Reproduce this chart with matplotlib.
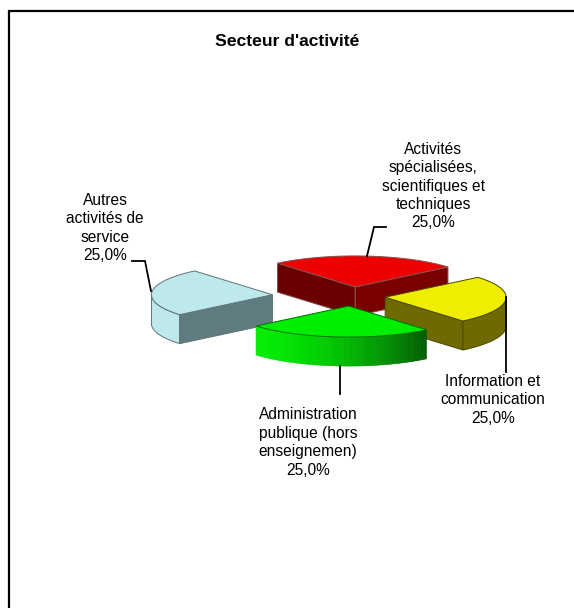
import matplotlib
matplotlib.use("Agg")
import matplotlib.pyplot as plt
import numpy as np

plt.rcParams['font.family'] = ['Liberation Sans', 'DejaVu Sans']

# data, in drawing order round the pie
categories = ["Activités\nspécialisées,\nscientifiques et\ntechniques",
              "Information et\ncommunication",
              "Administration\npublique (hors\nenseignemen)",
              "Autres\nactivités de\nservice"]
values = [25.0, 25.0, 25.0, 25.0]
explode = [0.31, 0.275, 0.31, 0.66]
top_colors = ["#ee0000", "#f0ee00", "#00ee00", "#bde8ec"]
wall_colors = ["#6a0000", "#6e6a00", "#00c000", "#5f7c80"]
rim_colors = ["#7a0000", "#6e6a00", "#00c000", "#bde8ec"]
edge_colors = ["#8a5050", "#4a4800", "#007000", "#5f7478"]

# geometry of the 3d pie, in pixels
cx, cy = 352, 296.5
rx, ry = 121, 31
depth = 29
start = 130  # red slice starts here and goes clockwise


def pt(x0, y0, a):
    return x0 + rx * np.cos(np.radians(a)), y0 - ry * np.sin(np.radians(a))


fig = plt.figure(figsize=(5.74, 6.08), dpi=100)
ax = fig.add_axes([0, 0, 1, 1])
ax.set_xlim(0, 574)
ax.set_ylim(608, 0)
ax.axis("off")

# outer frame only shows on the left and top
ax.plot([9, 9, 574], [608, 11, 11], color="black", lw=1.6, solid_joinstyle="miter")

# slice angles from the values
sweep = np.array(values) / sum(values) * 360
a_start = start - np.concatenate([[0], np.cumsum(sweep)[:-1]])
a_end = a_start - sweep

slices = []
for i in range(len(values)):
    mid = (a_start[i] + a_end[i]) / 2
    ox = cx + explode[i] * rx * np.cos(np.radians(mid))
    oy = cy - explode[i] * ry * np.sin(np.radians(mid))
    slices.append((ox, oy, a_start[i], a_end[i]))


def radial_wall(ox, oy, a, color, edge, z):
    x, y = pt(ox, oy, a)
    ax.fill([ox, x, x, ox], [oy, y, y + depth, oy + depth], fc=color, ec=edge, lw=0.7, zorder=z)


def rim(ox, oy, a1, a2, color, edge, z, shade=False):
    # only the front half of the rim can be seen
    a1, a2 = min(a1, a2), max(a1, a2)
    angs = np.linspace(a1, a2, 90)
    angs = angs[np.sin(np.radians(angs)) <= 0.001]
    if len(angs) < 2:
        return
    if shade:
        c0 = np.array([0.0, 0.93, 0.0])
        c1 = np.array([0.0, 0.36, 0.0])
        for k in range(len(angs) - 1):
            x1, y1 = pt(ox, oy, angs[k])
            x2, y2 = pt(ox, oy, angs[k + 1])
            t = ((x1 + x2) / 2 - pt(ox, oy, a1)[0]) / (pt(ox, oy, a2)[0] - pt(ox, oy, a1)[0])
            col = c0 + (c1 - c0) * t ** 1.6
            ax.fill([x1, x2, x2, x1], [y1, y2, y2 + depth, y1 + depth], fc=col, ec=col, lw=0.4, zorder=z)
    else:
        x, y = pt(ox, oy, angs)
        ax.fill(np.r_[x, x[::-1]], np.r_[y, y[::-1] + depth], fc=color, ec=edge, lw=0.7, zorder=z)


def top(ox, oy, a1, a2, color, edge, z):
    angs = np.linspace(a1, a2, 60)
    x, y = pt(ox, oy, angs)
    ax.fill(np.r_[ox, x], np.r_[oy, y], fc=color, ec=edge, lw=0.7, zorder=z)


# red
ox, oy, a1, a2 = slices[0]
radial_wall(ox, oy, a1, wall_colors[0], edge_colors[0], 3)
radial_wall(ox, oy, a2, rim_colors[0], edge_colors[0], 3)
top(ox, oy, a1, a2, top_colors[0], edge_colors[0], 4)
# light blue
ox, oy, a1, a2 = slices[3]
rim(ox, oy, a1, a2, rim_colors[3], edge_colors[3], 3)
radial_wall(ox, oy, a1, wall_colors[3], edge_colors[3], 3)
top(ox, oy, a1, a2, top_colors[3], edge_colors[3], 4)
# yellow
ox, oy, a1, a2 = slices[1]
radial_wall(ox, oy, a2, wall_colors[1], edge_colors[1], 5)
rim(ox, oy, a1, a2, rim_colors[1], edge_colors[1], 5)
top(ox, oy, a1, a2, top_colors[1], edge_colors[1], 6)
# green
ox, oy, a1, a2 = slices[2]
rim(ox, oy, a1, a2, rim_colors[2], edge_colors[2], 7, shade=True)
top(ox, oy, a1, a2, top_colors[2], edge_colors[2], 8)

# leader lines
leaders = [([367, 374, 386], [256, 227, 227]),
           ([506, 506], [297, 372]),
           ([340, 340], [366, 394]),
           ([151, 145, 132], [291, 261, 261])]
for lx, ly in leaders:
    ax.plot(lx, ly, color="black", lw=1.3, zorder=9, solid_joinstyle="miter")

# labels
label_pos = [(433, 186), (493, 400), (308, 442.5), (105, 228)]
for name, v, (tx, ty) in zip(categories, values, label_pos):
    s = name + "\n" + f"{v:.1f}".replace(".", ",") + "%"
    ax.text(tx, ty, s, ha="center", va="center", fontsize=11.2, linespacing=1.29, color="black", zorder=10)

ax.text(287, 41, "Secteur d'activité", ha="center", va="center", fontsize=12.6, fontweight="bold")

fig.savefig("out.png", dpi=100)
